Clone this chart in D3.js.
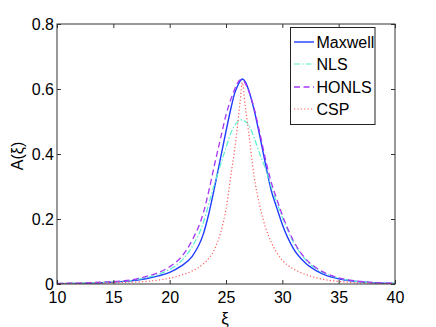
<!DOCTYPE html>
<html>
<head>
<meta charset="utf-8">
<script src="https://cdn.jsdelivr.net/npm/d3@7"></script>
<style>
  body { margin: 0; background: #fff; }
  text { font-family: "Liberation Sans", Arial, sans-serif; fill: #000; }
</style>
</head>
<body>
<script>
// xi grid and amplitude
let xi = [10, 12, 14, 16, 18, 19, 20, 21, 22, 23, 23.5, 24, 24.5, 25, 25.5, 25.75, 26, 26.25, 26.45,
          26.7, 27, 27.5, 28, 28.5, 29, 29.5, 30, 31, 32, 33, 34, 35, 36, 38, 40]

let maxwell = [0.001, 0.002, 0.004, 0.008, 0.017, 0.025, 0.036, 0.055, 0.085, 0.155, 0.22, 0.30, 0.385, 0.47, 0.55, 0.585, 0.607, 0.624, 0.631,
               0.623, 0.598, 0.535, 0.455, 0.37, 0.29, 0.235, 0.183, 0.108, 0.066, 0.041, 0.025, 0.016, 0.010, 0.004, 0.002]
let nls = [0.002, 0.003, 0.005, 0.009, 0.020, 0.030, 0.045, 0.070, 0.115, 0.19, 0.25, 0.31, 0.365, 0.42, 0.47, 0.487, 0.498, 0.505, 0.505,
           0.50, 0.49, 0.45, 0.40, 0.355, 0.30, 0.252, 0.205, 0.128, 0.077, 0.047, 0.029, 0.018, 0.011, 0.004, 0.002]
let honls = [0.002, 0.003, 0.006, 0.010, 0.024, 0.035, 0.053, 0.082, 0.135, 0.22, 0.29, 0.37, 0.445, 0.52, 0.575, 0.598, 0.617, 0.628, 0.628,
             0.618, 0.595, 0.54, 0.465, 0.385, 0.315, 0.262, 0.212, 0.132, 0.080, 0.050, 0.031, 0.019, 0.012, 0.005, 0.002]
let csp = [0.001, 0.002, 0.003, 0.005, 0.008, 0.012, 0.018, 0.027, 0.040, 0.062, 0.080, 0.108, 0.155, 0.23, 0.35, 0.41, 0.48, 0.56, 0.62,
           0.55, 0.47, 0.33, 0.24, 0.175, 0.13, 0.097, 0.073, 0.046, 0.030, 0.019, 0.012, 0.008, 0.005, 0.002, 0.001]

let xTicks = [10, 15, 20, 25, 30, 35, 40]
let yTicks = [0, 0.2, 0.4, 0.6, 0.8]
let yTickLabels = ['0', '0.2', '0.4', '0.6', '0.8']

let seriesNames = ['Maxwell', 'NLS', 'HONLS', 'CSP']
let seriesValues = [maxwell, nls, honls, csp]
let seriesColors = ['#1f3cff', '#5cf0cc', '#a637f5', '#ff5a5a']
let seriesDash = [null, '6,2,1.5,2', '6,3.5', '1.2,2.2']
let seriesWidth = [1.4, 1.2, 1.3, 1.2]

let plotLeft = 57, plotRight = 395, plotTop = 24, plotBottom = 284

let svg = d3.select('body').append('svg')
    .attr('width', 436)
    .attr('height', 327)

let xScale = d3.scaleLinear().domain([10, 40]).range([plotLeft, plotRight])
let yScale = d3.scaleLinear().domain([0, 0.8]).range([plotBottom, plotTop])

svg.append('defs').append('clipPath').attr('id', 'clip')
    .append('rect')
    .attr('x', plotLeft).attr('y', plotTop)
    .attr('width', plotRight - plotLeft).attr('height', plotBottom - plotTop)

// curves
let line = d3.line()
    .x(function(d) { return xScale(d[0]) })
    .y(function(d) { return yScale(d[1]) })
    .curve(d3.curveMonotoneX)

seriesValues.forEach(function(vals, i) {
    svg.append('path')
        .datum(xi.map(function(x, j) { return [x, vals[j]] }))
        .attr('clip-path', 'url(#clip)')
        .attr('d', line)
        .attr('fill', 'none')
        .attr('stroke', seriesColors[i])
        .attr('stroke-width', seriesWidth[i])
        .attr('stroke-dasharray', seriesDash[i])
})

// axes, ticks pointing inward
let axisColor = '#333'
function styleAxis(g) {
    g.select('.domain').remove()
    g.selectAll('line').attr('stroke', axisColor)
    g.selectAll('text').attr('font-size', 16).attr('font-family', '"Liberation Sans", Arial, sans-serif')
}

svg.append('g')
    .attr('transform', 'translate(0,' + plotBottom + ')')
    .call(d3.axisBottom(xScale).tickValues(xTicks).tickSize(-4).tickPadding(8).tickFormat(d3.format('d')))
    .call(styleAxis)

svg.append('g')
    .attr('transform', 'translate(0,' + plotTop + ')')
    .call(d3.axisTop(xScale).tickValues(xTicks).tickSize(-4).tickFormat(''))
    .call(styleAxis)

svg.append('g')
    .attr('transform', 'translate(' + plotLeft + ',0)')
    .call(d3.axisLeft(yScale).tickValues(yTicks).tickSize(-4).tickPadding(3)
        .tickFormat(function(d, i) { return yTickLabels[i] }))
    .call(styleAxis)

svg.append('g')
    .attr('transform', 'translate(' + plotRight + ',0)')
    .call(d3.axisRight(yScale).tickValues(yTicks).tickSize(-4).tickFormat(''))
    .call(styleAxis)

svg.append('rect')
    .attr('x', plotLeft).attr('y', plotTop)
    .attr('width', plotRight - plotLeft).attr('height', plotBottom - plotTop)
    .attr('fill', 'none')
    .attr('stroke', axisColor)
    .attr('stroke-width', 1)

// axis labels
svg.append('text')
    .attr('x', 225).attr('y', 324)
    .attr('text-anchor', 'middle')
    .attr('font-size', 17)
    .text('ξ')

svg.append('text')
    .attr('transform', 'translate(23,156) rotate(-90)')
    .attr('text-anchor', 'middle')
    .attr('font-size', 16)
    .text('A(ξ)')

// legend
let legend = svg.append('g')
legend.append('rect')
    .attr('x', 290.5).attr('y', 27.5)
    .attr('width', 84.5).attr('height', 97)
    .attr('fill', '#fff')
    .attr('stroke', '#222')

let rowY = [42, 64, 87, 109]
seriesNames.forEach(function(name, i) {
    legend.append('line')
        .attr('x1', 294).attr('x2', 314)
        .attr('y1', rowY[i]).attr('y2', rowY[i])
        .attr('stroke', seriesColors[i])
        .attr('stroke-width', seriesWidth[i])
        .attr('stroke-dasharray', seriesDash[i])
    legend.append('text')
        .attr('x', 316.5).attr('y', rowY[i])
        .attr('dy', '0.36em')
        .attr('font-size', 16)
        .text(name)
})
</script>
</body>
</html>
